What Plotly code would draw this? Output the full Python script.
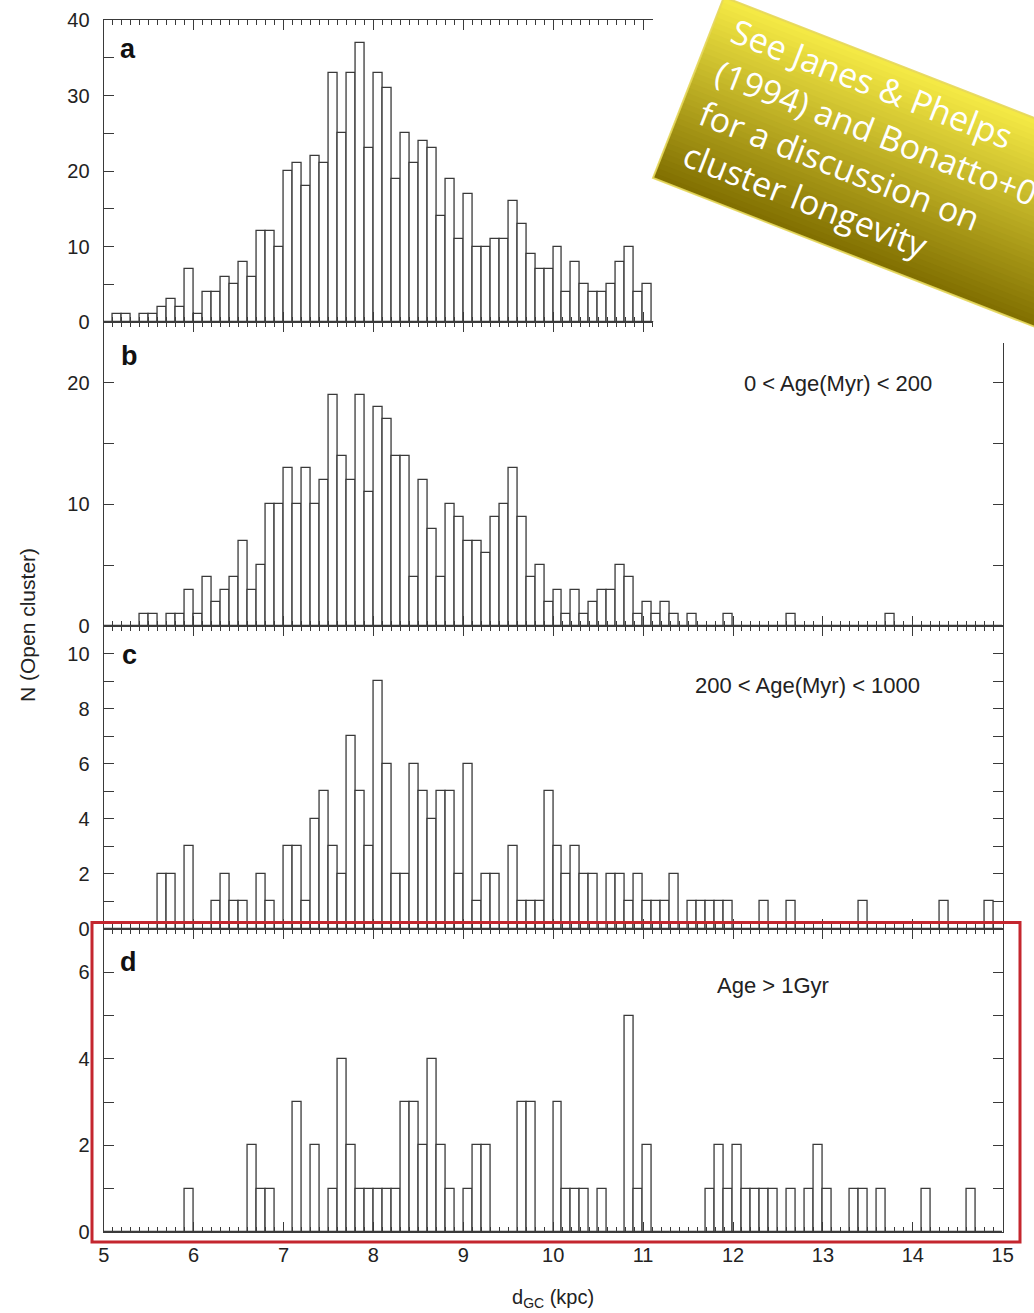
import math
import plotly.graph_objects as go

W, H = 1034, 1313

# ---------------- data (bin counts, 0.1 kpc bins starting at 5.0 kpc) ----------------
bin_start = 5.0
bin_width = 0.1

counts_all = [0, 1, 1, 0, 1, 1, 2, 3, 2, 7,
              1, 4, 4, 6, 5, 8, 6, 12, 12, 10,
              20, 21, 18, 22, 21, 33, 25, 33, 37, 23,
              33, 31, 19, 25, 21, 24, 23, 14, 19, 11,
              17, 10, 10, 11, 11, 16, 13, 9, 7, 7,
              10, 4, 8, 5, 4, 4, 5, 8, 10, 4,
              5]

counts_young = [0, 0, 0, 0, 1, 1, 0, 1, 1, 3,
                1, 4, 2, 3, 4, 7, 3, 5, 10, 10,
                13, 10, 13, 10, 12, 19, 14, 12, 19, 11,
                18, 17, 14, 14, 4, 12, 8, 4, 10, 9,
                7, 7, 6, 9, 10, 13, 9, 4, 5, 2,
                3, 1, 3, 1, 2, 3, 3, 5, 4, 1,
                2, 1, 2, 1, 0, 1, 0, 0, 0, 1,
                0, 0, 0, 0, 0, 0, 1, 0, 0, 0,
                0, 0, 0, 0, 0, 0, 0, 1, 0, 0,
                0, 0, 0, 0, 0, 0, 0, 0, 0, 0]

counts_mid = [0, 0, 0, 0, 0, 0, 2, 2, 0, 3,
              0, 0, 1, 2, 1, 1, 0, 2, 1, 0,
              3, 3, 1, 4, 5, 3, 2, 7, 5, 3,
              9, 6, 2, 2, 6, 5, 4, 5, 5, 2,
              6, 1, 2, 2, 0, 3, 1, 1, 1, 5,
              3, 2, 3, 2, 2, 0, 2, 2, 1, 2,
              1, 1, 1, 2, 0, 1, 1, 1, 1, 1,
              0, 0, 0, 1, 0, 0, 1, 0, 0, 0,
              0, 0, 0, 0, 1, 0, 0, 0, 0, 0,
              0, 0, 0, 1, 0, 0, 0, 0, 1, 0]

counts_old = [0, 0, 0, 0, 0, 0, 0, 0, 0, 1,
              0, 0, 0, 0, 0, 0, 2, 1, 1, 0,
              0, 3, 0, 2, 0, 1, 4, 2, 1, 1,
              1, 1, 1, 3, 3, 2, 4, 2, 1, 0,
              1, 2, 2, 0, 0, 0, 3, 3, 0, 0,
              3, 1, 1, 1, 0, 1, 0, 0, 5, 1,
              2, 0, 0, 0, 0, 0, 0, 1, 2, 1,
              2, 1, 1, 1, 1, 0, 1, 0, 1, 2,
              1, 0, 0, 1, 1, 0, 1, 0, 0, 0,
              0, 1, 0, 0, 0, 0, 1, 0, 0, 0]

panel_letters = ["a", "b", "c", "d"]
panel_notes = ["", "0 < Age(Myr) < 200", "200 < Age(Myr) < 1000", "Age > 1Gyr"]
x_tick_labels = ["5", "6", "7", "8", "9", "10", "11", "12", "13", "14", "15"]
x_title = "d<sub>GC</sub> (kpc)"
y_title = "N (Open cluster)"
note_text = "See Janes & Phelps<br>(1994) and Bonatto+06<br>for a discussion on<br>cluster longevity"


def centers(counts):
    return [bin_start + bin_width * (k + 0.5) for k in range(len(counts))]


def px(x):
    return x / W


def py(y):
    return 1 - y / H


LINE = "#3a3a3a"
FONT = "Liberation Sans, Arial, Helvetica, sans-serif"

fig = go.Figure()
series = [counts_all, counts_young, counts_mid, counts_old]
for i, cts in enumerate(series):
    sfx = "" if i == 0 else str(i + 1)
    fig.add_trace(go.Bar(
        x=centers(cts), y=cts, width=bin_width,
        marker=dict(color="white", line=dict(color=LINE, width=1.3)),
        xaxis="x" + sfx, yaxis="y" + sfx, hoverinfo="x+y"))

x_left, x_right = 103.7, 1002.7
unit = (x_right - x_left) / 10.0
a_right = 652.7

ydom = [(322, 20), (626, 322), (929, 626), (1232, 929)]
yrng = [[0, 40], [0, 25], [0, 11], [0, 7]]
ydt = [10, 10, 2, 2]
ymin = [5, 5, 1, 1]

layout = dict(width=W, height=H, margin=dict(l=0, r=0, t=0, b=0, pad=0, autoexpand=False), autosize=False,
              paper_bgcolor="white", plot_bgcolor="white", showlegend=False,
              bargap=0, font=dict(family=FONT, color="#222"))

for i in range(4):
    sfx = "" if i == 0 else str(i + 1)
    xr = [5, 15]
    xd = [px(x_left), px(x_right)]
    if i == 0:
        xr = [5, 5 + (a_right - x_left) / unit]
        xd = [px(x_left), px(a_right)]
    layout["xaxis" + sfx] = dict(
        domain=xd, range=xr, anchor="y" + sfx, showline=True, linecolor=LINE, linewidth=1.3,
        mirror="allticks", ticks="inside", ticklen=10, tickwidth=1.2, tickcolor=LINE,
        tickmode="array", tickvals=list(range(5, 16)), ticktext=x_tick_labels,
        minor=dict(dtick=0.1, tick0=5, ticklen=5, tickwidth=1, tickcolor=LINE, ticks="inside", showgrid=False),
        showgrid=False, zeroline=False, showticklabels=(i == 3), automargin=False,
        tickfont=dict(family=FONT, size=20, color="#222"), ticklabelstandoff=5, fixedrange=True)
    layout["yaxis" + sfx] = dict(
        domain=[py(ydom[i][0]), py(ydom[i][1])], range=yrng[i], anchor="x" + sfx,
        showline=True, linecolor=LINE, linewidth=1.3,
        mirror=("allticks" if i > 0 else False), ticks="inside", ticklen=10, tickwidth=1.2, tickcolor=LINE,
        dtick=ydt[i], tick0=0, automargin=False,
        minor=dict(dtick=ymin[i], tick0=0, ticklen=10, tickwidth=1.2, tickcolor=LINE, ticks="inside", showgrid=False),
        showgrid=False, zeroline=False,
        tickfont=dict(family=FONT, size=20, color="#222"), ticklabelstandoff=9, fixedrange=True)

fig.update_layout(**layout)

shapes = []
# white area hiding the right part of the top panel's frame
shapes.append(dict(type="rect", xref="paper", yref="paper", x0=px(a_right + 0.5), x1=1.0,
                   y0=py(343), y1=1.0, fillcolor="white", line=dict(width=0), layer="above"))

# rotated yellow note box (gradient approximated by strips)
th = math.radians(21.3)
ux, uy = math.cos(th), math.sin(th)
tl = (724.0, -3.0)
bl = (653.0, 178.0)
L = 560.0
N = 36
c_top = (246, 235, 70)
c_bot = (128, 110, 0)
for j in range(N):
    t0 = j / N
    t1 = min(1.0, (j + 1.4) / N)
    a0 = (tl[0] + t0 * (bl[0] - tl[0]), tl[1] + t0 * (bl[1] - tl[1]))
    a1 = (tl[0] + t1 * (bl[0] - tl[0]), tl[1] + t1 * (bl[1] - tl[1]))
    pts = [a0, (a0[0] + L * ux, a0[1] + L * uy), (a1[0] + L * ux, a1[1] + L * uy), a1]
    path = "M " + " L ".join(f"{px(p[0]):.5f},{py(p[1]):.5f}" for p in pts) + " Z"
    tm = (j + 0.5) / N
    col = tuple(int(round(c_top[k] + (c_bot[k] - c_top[k]) * tm)) for k in range(3))
    shapes.append(dict(type="path", xref="paper", yref="paper", path=path,
                       fillcolor=f"rgb{col}", line=dict(width=0), layer="above"))
# bevel edge
pts = [tl, (tl[0] + L * ux, tl[1] + L * uy), (bl[0] + L * ux, bl[1] + L * uy), bl]
path = "M " + " L ".join(f"{px(p[0]):.5f},{py(p[1]):.5f}" for p in pts) + " Z"
shapes.append(dict(type="path", xref="paper", yref="paper", path=path,
                   fillcolor="rgba(0,0,0,0)", line=dict(width=2, color="rgba(230,215,90,0.9)"), layer="above"))

# red highlight box around panel d
shapes.append(dict(type="rect", xref="paper", yref="paper", x0=px(92), x1=px(1020),
                   y0=py(1242), y1=py(922.5), line=dict(color="#c4262e", width=3),
                   fillcolor="rgba(0,0,0,0)", layer="above"))

annotations = []
letter_pos = [(128, 49), (129, 356), (129, 655), (128, 962)]
for i in range(4):
    annotations.append(dict(text=f"<b>{panel_letters[i]}</b>", x=px(letter_pos[i][0]), y=py(letter_pos[i][1]),
                            xref="paper", yref="paper", showarrow=False, xanchor="center", yanchor="middle",
                            font=dict(family=FONT, size=27, color="#111")))
note_pos = [None, (838, 383), (807, 685), (773, 985)]
for i in range(1, 4):
    annotations.append(dict(text=panel_notes[i], x=px(note_pos[i][0]), y=py(note_pos[i][1]),
                            xref="paper", yref="paper", showarrow=False, xanchor="center", yanchor="middle",
                            font=dict(family=FONT, size=22, color="#222")))
annotations.append(dict(text=x_title, x=px(553), y=py(1298), xref="paper", yref="paper", showarrow=False,
                        xanchor="center", yanchor="middle", font=dict(family=FONT, size=20, color="#222")))
annotations.append(dict(text=y_title, x=px(28), y=py(625), xref="paper", yref="paper", showarrow=False,
                        xanchor="center", yanchor="middle", textangle=-90,
                        font=dict(family=FONT, size=21, color="#222")))
annotations.append(dict(text=note_text, x=px(877), y=py(156), xref="paper", yref="paper", showarrow=False,
                        xanchor="center", yanchor="middle", textangle=21.3, align="left",
                        font=dict(family="Open Sans, sans-serif", size=34, color="white")))

fig.update_layout(shapes=shapes, annotations=annotations)
fig.write_html("out.html")
